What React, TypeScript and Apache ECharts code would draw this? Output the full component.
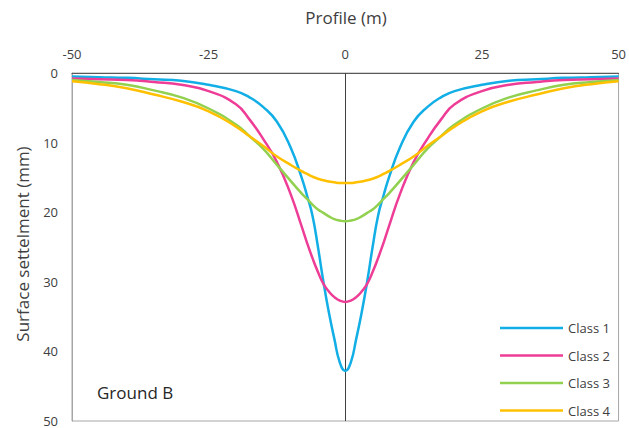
import React, { useEffect, useRef } from "react";
import * as echarts from "echarts";

const profileX = [-50, -45, -40, -35, -30, -25, -20, -17.5, -15, -12.5, -10, -8, -7, -6, -5, -4, -3, -2, -1, 0, 1, 2, 3, 4, 5, 6, 7, 8, 10, 12.5, 15, 17.5, 20, 25, 30, 35, 40, 45, 50];

const class1 = [0.5, 0.6, 0.7, 0.9, 1.1, 1.7, 2.6, 3.5, 4.9, 7.0, 10.7, 15.0, 17.6, 20.5, 25.0, 30.0, 34.4, 38.2, 41.6, 42.8, 41.6, 38.2, 34.4, 30.0, 25.0, 20.5, 17.6, 15.0, 10.7, 7.0, 4.9, 3.5, 2.6, 1.7, 1.1, 0.9, 0.7, 0.6, 0.5];
const class2 = [0.8, 0.9, 1.0, 1.3, 1.7, 2.6, 4.5, 6.7, 9.5, 12.8, 17.4, 22.0, 24.4, 26.6, 28.6, 30.3, 31.4, 32.2, 32.7, 32.9, 32.7, 32.2, 31.4, 30.3, 28.6, 26.6, 24.4, 22.0, 17.4, 12.8, 9.5, 6.7, 4.5, 2.6, 1.7, 1.3, 1.0, 0.9, 0.8];
const class3 = [1.0, 1.3, 1.7, 2.5, 3.5, 5.1, 7.4, 9.1, 10.9, 13.2, 15.5, 17.3, 18.1, 18.9, 19.6, 20.1, 20.6, 21.0, 21.2, 21.3, 21.2, 21.0, 20.6, 20.1, 19.6, 18.9, 18.1, 17.3, 15.5, 13.2, 10.9, 9.1, 7.4, 5.1, 3.5, 2.5, 1.7, 1.3, 1.0];
const class4 = [1.2, 1.6, 2.2, 3.1, 4.1, 5.5, 7.7, 9.1, 10.5, 12.0, 13.2, 14.1, 14.5, 14.9, 15.2, 15.4, 15.6, 15.7, 15.8, 15.8, 15.8, 15.7, 15.6, 15.4, 15.2, 14.9, 14.5, 14.1, 13.2, 12.0, 10.5, 9.1, 7.7, 5.5, 4.1, 3.1, 2.2, 1.6, 1.2];

const seriesNames = ["Class 1", "Class 2", "Class 3", "Class 4"];
const seriesColors = ["#12aee6", "#ee3d96", "#92d050", "#ffc000"];
const seriesValues = [class1, class2, class3, class4];

const FONT = "'Open Sans', 'Noto Sans', sans-serif";

export default function App() {
  const ref = useRef<HTMLDivElement>(null);
  useEffect(() => {
    if (!ref.current) return;
    const chart = echarts.init(ref.current, undefined, { renderer: "svg" });
    const series: any[] = seriesValues.map((vals, i) => ({
      name: seriesNames[i],
      type: "line",
      data: profileX.map((x, j) => [x, vals[j]]),
      smooth: 0.5,
      showSymbol: false,
      symbol: "none",
      lineStyle: { color: seriesColors[i], width: 2.5 },
      itemStyle: { color: seriesColors[i] },
      z: 3,
    }));
    series[0].markLine = {
      silent: true,
      symbol: "none",
      label: { show: false },
      lineStyle: { color: "#404040", width: 1, type: "solid" },
      data: [{ xAxis: 0 }],
      z: 2,
    };
    chart.setOption({
      animation: false,
      backgroundColor: "#fff",
      grid: {
        left: 72,
        right: 8,
        top: 73,
        bottom: 7,
        show: true,
        borderColor: "#a6a6a6",
        borderWidth: 1,
      },
      xAxis: {
        type: "value",
        position: "top",
        min: -50,
        max: 50,
        interval: 25,
        axisLine: { show: true, lineStyle: { color: "#595959", width: 1 } },
        axisTick: { show: false },
        splitLine: { show: false },
        axisLabel: { color: "#404040", fontSize: 13, fontFamily: FONT, margin: 13 },
      },
      yAxis: {
        type: "value",
        inverse: true,
        min: 0,
        max: 50,
        interval: 10,
        axisLine: { show: true, onZero: false, lineStyle: { color: "#a6a6a6" } },
        axisTick: { show: false },
        splitLine: { show: false },
        axisLabel: { color: "#404040", fontSize: 13, lineHeight: 12, fontFamily: FONT, margin: 14 },
      },
      legend: {
        orient: "vertical",
        left: 495,
        top: 316,
        icon: "rect",
        itemWidth: 63,
        itemHeight: 2.5,
        itemGap: 13.5,
        data: seriesNames,
        textStyle: { color: "#404040", fontSize: 13, fontFamily: FONT, lineHeight: 14 },
      },
      graphic: [
        {
          type: "text",
          style: {
            text: "Profile (m)",
            x: 346,
            y: 17,
            align: "center",
            verticalAlign: "middle",
            fill: "#404040",
            fontSize: 17,
            fontFamily: FONT,
          },
        },
        {
          type: "text",
          x: 22,
          y: 244,
          rotation: Math.PI / 2,
          style: {
            text: "Surface settelment (mm)",
            x: 0,
            y: 0,
            align: "center",
            verticalAlign: "middle",
            fill: "#404040",
            fontSize: 17,
            fontFamily: FONT,
          },
        },
        {
          type: "text",
          style: {
            text: "Ground B",
            x: 97,
            y: 392,
            align: "left",
            verticalAlign: "middle",
            fill: "#262626",
            fontSize: 17,
            fontFamily: FONT,
          },
        },
      ],
      series,
    });
    return () => chart.dispose();
  }, []);
  return <div ref={ref} style={{ width: 629, height: 428, position: "absolute", left: 0, top: 0 }} />;
}
